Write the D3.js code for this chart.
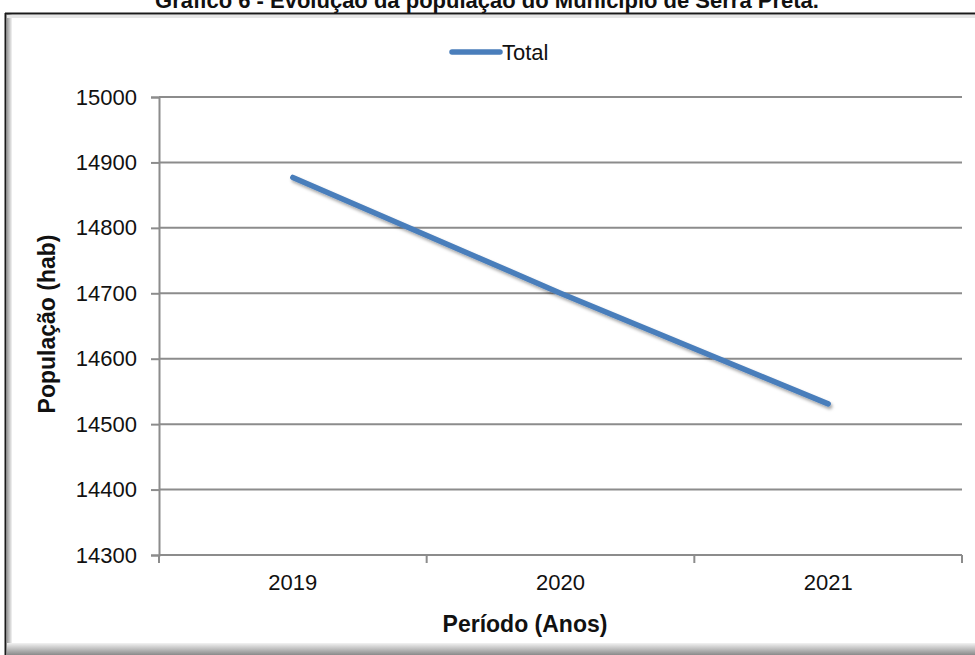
<!DOCTYPE html>
<html>
<head>
<meta charset="utf-8">
<script src="https://cdn.jsdelivr.net/npm/d3@7"></script>
<style>
  html, body { margin: 0; padding: 0; background: #fff; }
  svg { display: block; font-family: "Liberation Sans", Arial, sans-serif; }
</style>
</head>
<body>
<svg id="chart" width="975" height="655"></svg>
<script>
// Population of Serra Preta by year
const years = ["2019", "2020", "2021"];
const population = [14877, 14700, 14531];
const yTicks = [14300, 14400, 14500, 14600, 14700, 14800, 14900, 15000];
const seriesName = "Total";

const titleText = "Gráfico 6 - Evolução da população do Município de Serra Preta.";
const xTitle = "Período (Anos)";
const yTitle = "População (hab)";

const svg = d3.select("#chart");
const W = 975, H = 655;
const plot = { left: 159, right: 962, top: 97, bottom: 555 };
const lineColor = "#4A7EBB";
const gridColor = "#8C8C8C";

const defs = svg.append("defs");
const shadow = defs.append("filter").attr("id", "shadow")
  .attr("x", "-10%").attr("y", "-10%").attr("width", "130%").attr("height", "130%");
shadow.append("feDropShadow").attr("dx", 1.5).attr("dy", 2.5)
  .attr("stdDeviation", 1.6).attr("flood-color", "#000").attr("flood-opacity", 0.35);

const grad = defs.append("linearGradient").attr("id", "bottomShade")
  .attr("x1", 0).attr("y1", 0).attr("x2", 0).attr("y2", 1);
grad.append("stop").attr("offset", "0%").attr("stop-color", "#f2f2f2");
grad.append("stop").attr("offset", "100%").attr("stop-color", "#8a8a8a");

const leftGrad = defs.append("linearGradient").attr("id", "leftShade")
  .attr("x1", 0).attr("y1", 0).attr("x2", 1).attr("y2", 0);
leftGrad.append("stop").attr("offset", "0%").attr("stop-color", "#9a9a9a");
leftGrad.append("stop").attr("offset", "100%").attr("stop-color", "#f4f4f4");

// Title (sits partly above the page edge)
svg.append("text")
  .attr("x", 487).attr("y", 8)
  .attr("text-anchor", "middle")
  .attr("font-size", 22).attr("font-weight", "bold").attr("fill", "#111")
  .text(titleText);

// Chart frame with shaded edges
svg.append("rect").attr("x", 7).attr("y", 14).attr("width", 5).attr("height", H - 14)
  .attr("fill", "url(#leftShade)");
svg.append("rect").attr("x", 7).attr("y", 15).attr("width", W - 7).attr("height", 3)
  .attr("fill", "#e6e6e6");
svg.append("rect").attr("x", 7).attr("y", 643).attr("width", W - 7).attr("height", 12)
  .attr("fill", "url(#bottomShade)");
svg.append("line").attr("x1", 5).attr("x2", W).attr("y1", 13.5).attr("y2", 13.5)
  .attr("stroke", "#1a1a1a").attr("stroke-width", 2.2);
svg.append("line").attr("x1", 5.5).attr("x2", 5.5).attr("y1", 13).attr("y2", H)
  .attr("stroke", "#1a1a1a").attr("stroke-width", 2);

// Scales
const x = d3.scaleBand().domain(years).range([plot.left, plot.right]).padding(0);
const y = d3.scaleLinear().domain([14300, 15000]).range([plot.bottom, plot.top]);

// Horizontal gridlines
svg.append("g").selectAll("line").data(yTicks.filter(t => t !== 14300)).join("line")
  .attr("x1", plot.left).attr("x2", plot.right)
  .attr("y1", d => y(d)).attr("y2", d => y(d))
  .attr("stroke", gridColor).attr("stroke-width", 2);

// Y axis
const yAxis = svg.append("g")
  .attr("transform", `translate(${plot.left},0)`)
  .call(d3.axisLeft(y).tickValues(yTicks).tickSize(8).tickPadding(14).tickFormat(d3.format("d")));
yAxis.select(".domain").attr("stroke", gridColor).attr("stroke-width", 2);
yAxis.selectAll(".tick line").attr("stroke", gridColor).attr("stroke-width", 2);
yAxis.selectAll(".tick text").attr("font-size", 22).attr("fill", "#111")
  .attr("font-family", "Liberation Sans, Arial, sans-serif");

// X axis: ticks at category boundaries
const xAxisG = svg.append("g").attr("transform", `translate(0,${plot.bottom})`);
xAxisG.append("line").attr("x1", plot.left).attr("x2", plot.right)
  .attr("y1", 0).attr("y2", 0).attr("stroke", gridColor).attr("stroke-width", 2);
const bounds = years.map(d => x(d)).concat([x(years[years.length - 1]) + x.bandwidth()]);
xAxisG.selectAll("line.tk").data(bounds).join("line").attr("class", "tk")
  .attr("x1", d => d).attr("x2", d => d).attr("y1", 0).attr("y2", 8)
  .attr("stroke", gridColor).attr("stroke-width", 2);
xAxisG.selectAll("text").data(years).join("text")
  .attr("x", d => x(d) + x.bandwidth() / 2).attr("y", 35)
  .attr("text-anchor", "middle").attr("font-size", 22).attr("fill", "#111")
  .text(d => d);

// Axis titles
svg.append("text")
  .attr("x", 525).attr("y", 632)
  .attr("text-anchor", "middle").attr("font-size", 23).attr("font-weight", "bold").attr("fill", "#111")
  .text(xTitle);
svg.append("text")
  .attr("transform", "translate(55,324) rotate(-90)")
  .attr("text-anchor", "middle").attr("font-size", 23).attr("font-weight", "bold").attr("fill", "#111")
  .text(yTitle);

// Series line
const line = d3.line()
  .x((d, i) => x(years[i]) + x.bandwidth() / 2)
  .y(d => y(d));
svg.append("path").datum(population)
  .attr("d", line)
  .attr("fill", "none").attr("stroke", lineColor).attr("stroke-width", 5.5)
  .attr("stroke-linecap", "round").attr("stroke-linejoin", "round")
  .attr("filter", "url(#shadow)");

// Legend
const legend = svg.append("g").attr("transform", "translate(452,52)");
legend.append("line").attr("x1", 0).attr("x2", 48).attr("y1", 0).attr("y2", 0)
  .attr("stroke", lineColor).attr("stroke-width", 5.5).attr("stroke-linecap", "round");
legend.append("text").attr("x", 50).attr("y", 8)
  .attr("font-size", 22).attr("fill", "#111").text(seriesName);
</script>
</body>
</html>
